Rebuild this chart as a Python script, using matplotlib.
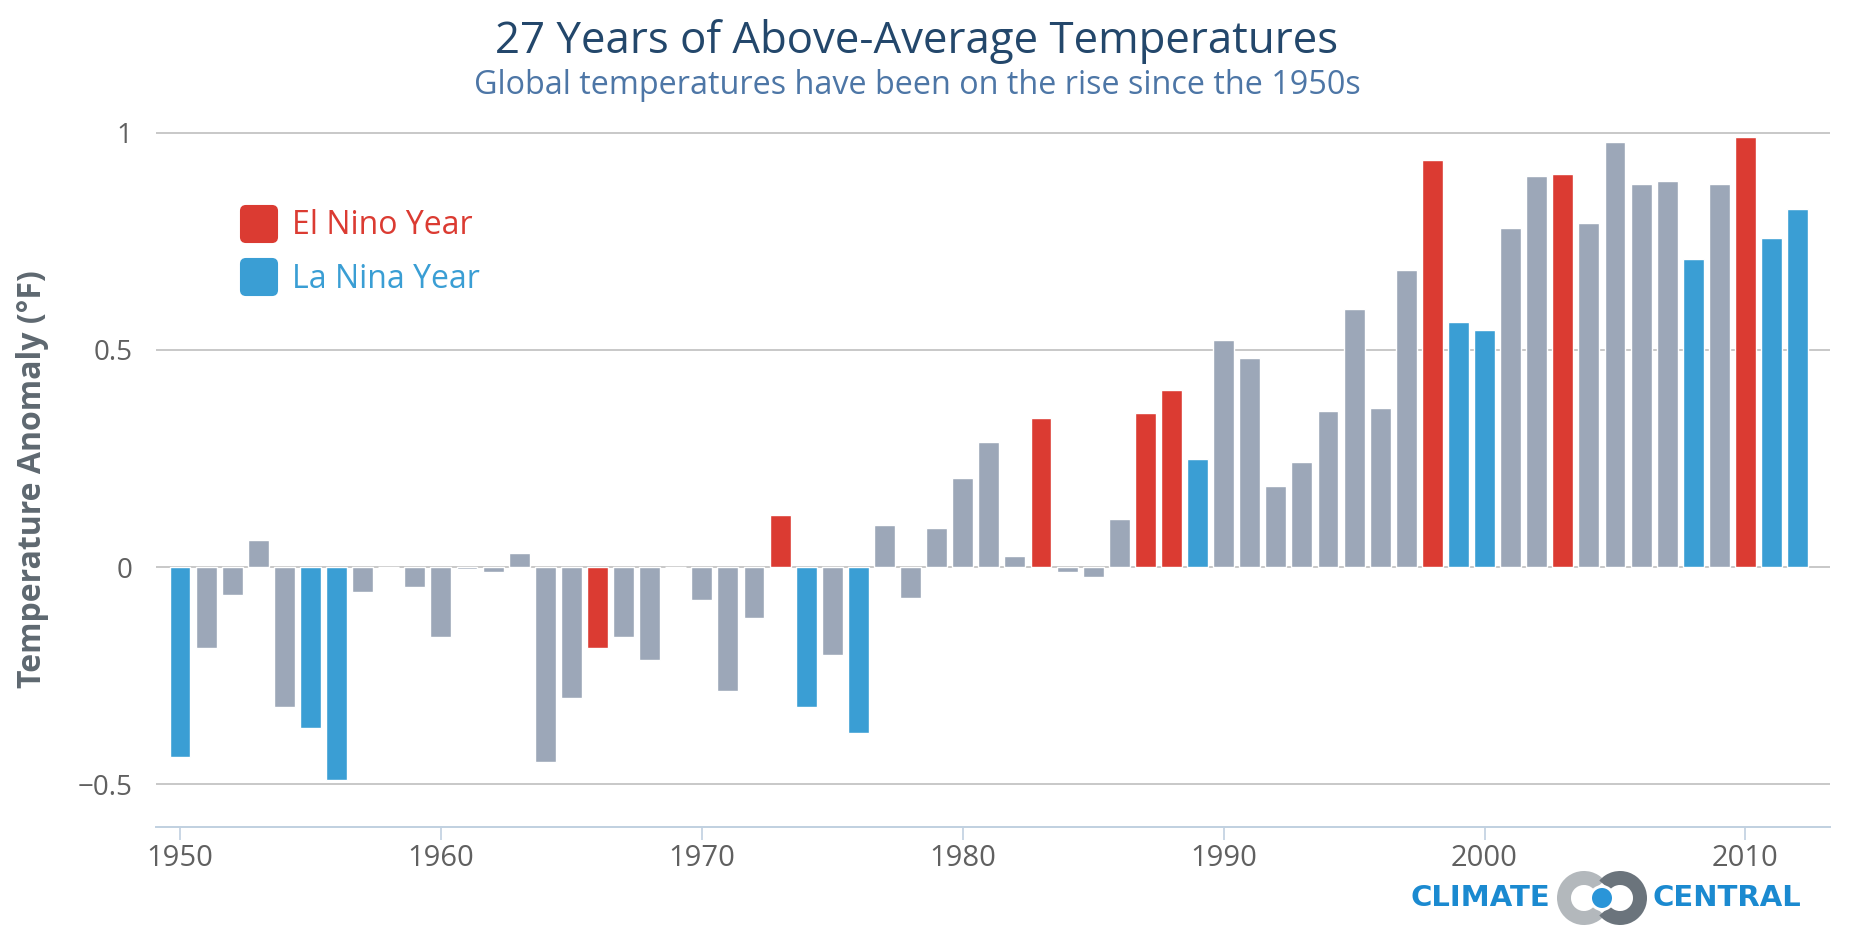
import numpy as np
import matplotlib
matplotlib.use("Agg")
import matplotlib.pyplot as plt
from matplotlib.patches import FancyBboxPatch, Wedge, Circle

plt.rcParams['font.family'] = ['Open Sans', 'DejaVu Sans']

# données (anomalie en °F)
years = list(range(1950, 2013))
anomaly = [-0.436, -0.185, -0.064, 0.062, -0.322, -0.369, -0.490, -0.058, 0.0, -0.046,
           -0.160, -0.005, -0.011, 0.032, -0.448, -0.300, -0.185, -0.161, -0.214, 0.0,
           -0.076, -0.286, -0.118, 0.121, -0.322, -0.202, -0.382, 0.097, -0.071, 0.091,
           0.205, 0.289, 0.026, 0.344, -0.010, -0.023, 0.110, 0.355, 0.408, 0.248,
           0.523, 0.482, 0.188, 0.241, 0.360, 0.595, 0.367, 0.684, 0.937, 0.565,
           0.547, 0.780, 0.900, 0.906, 0.792, 0.978, 0.883, 0.888, 0.709, 0.883,
           0.990, 0.757, 0.824]
el_nino = [1966, 1973, 1983, 1987, 1988, 1998, 2003, 2010]
la_nina = [1950, 1955, 1956, 1974, 1976, 1989, 1999, 2000, 2008, 2011, 2012]
yticks = [-0.5, 0, 0.5, 1]
xticks = [1950, 1960, 1970, 1980, 1990, 2000, 2010]
legend_labels = ["El Nino Year", "La Nina Year"]

RED = "#db3b32"
BLUE = "#3a9ed4"
GRAY = "#9ca7b8"

W, H = 1858, 935
fig = plt.figure(figsize=(W / 100, H / 100), dpi=100)

def px(x, y):                      # pixels -> fraction de figure
    return x / W, 1 - y / H

ax = fig.add_axes([156 / W, 1 - 827 / H, (1830 - 156) / W, (827 - 111) / H])

colors = []
for y in years:
    if y in el_nino:
        colors.append(RED)
    elif y in la_nina:
        colors.append(BLUE)
    else:
        colors.append(GRAY)

ax.bar(years, anomaly, width=0.8, color=colors, edgecolor="white", linewidth=1, zorder=3)

ax.set_xlim(1949.08, 2013.24)
ax.set_ylim(-0.598, 1.05)
ax.set_yticks(yticks)
ax.set_yticklabels(["\u22120.5", "0", "0.5", "1"])
ax.set_xticks(xticks)
ax.yaxis.grid(True, color="#c4c4c4", linewidth=1.3, zorder=0)
ax.set_axisbelow(True)
for s in ["left", "top", "right"]:
    ax.spines[s].set_visible(False)
ax.spines["bottom"].set_color("#c0d0e0")
ax.spines["bottom"].set_linewidth(1.4)
ax.spines["bottom"].set_zorder(4)
ax.tick_params(axis="x", direction="out", length=9, width=1.2, color="#c0d0e0",
               labelsize=21, labelcolor="#606060", pad=3)
ax.tick_params(axis="y", length=0, labelsize=20, labelcolor="#606060", pad=17)

# titre de l'axe y placé à la main
fig.text(*px(33, 479), "Temperature Anomaly (\u00b0F)", rotation=90, ha="center", va="center",
         fontsize=23, fontweight="bold", color="#5e6870")

# titres
fig.text(*px(917, 42), "27 Years of Above-Average Temperatures", ha="center", va="center",
         fontsize=31.5, color="#23476b")
fig.text(*px(917, 85), "Global temperatures have been on the rise since the 1950s", ha="center",
         va="center", fontsize=23.3, color="#4d76a6")

# couche en pixels pour la légende et le logo
ov = fig.add_axes([0, 0, 1, 1], zorder=10)
ov.set_xlim(0, W)
ov.set_ylim(H, 0)
ov.axis("off")

for i, (lab, col) in enumerate(zip(legend_labels, [RED, BLUE])):
    y0 = 205 + i * 53
    ov.add_patch(FancyBboxPatch((241, y0 + 1), 36, 36, boxstyle="round,pad=0,rounding_size=5",
                                facecolor=col, edgecolor=col, linewidth=1.5))
    ov.text(292, y0 + 21, lab, color=col, fontsize=23, va="center", ha="left")

# logo
ov.text(1411, 898, "CLIMATE", fontsize=21, fontweight="bold", color="#1b8ad0",
        family="DejaVu Sans", ha="left", va="center")
ov.text(1653, 898, "CENTRAL", fontsize=21, fontweight="bold", color="#1b8ad0",
        family="DejaVu Sans", ha="left", va="center")
ov.add_patch(Wedge((1584, 898), 27, 40, 320, width=14, facecolor="#b3b8bc", edgecolor="none"))
ov.add_patch(Wedge((1620, 898), 27, -140, 140, width=14, facecolor="#6b747c", edgecolor="none"))
ov.add_patch(Circle((1602, 898), 13, facecolor="white", edgecolor="none"))
ov.add_patch(Circle((1602, 898), 10, facecolor="#2a95d8", edgecolor="none"))

fig.savefig("out.png", dpi=100)
